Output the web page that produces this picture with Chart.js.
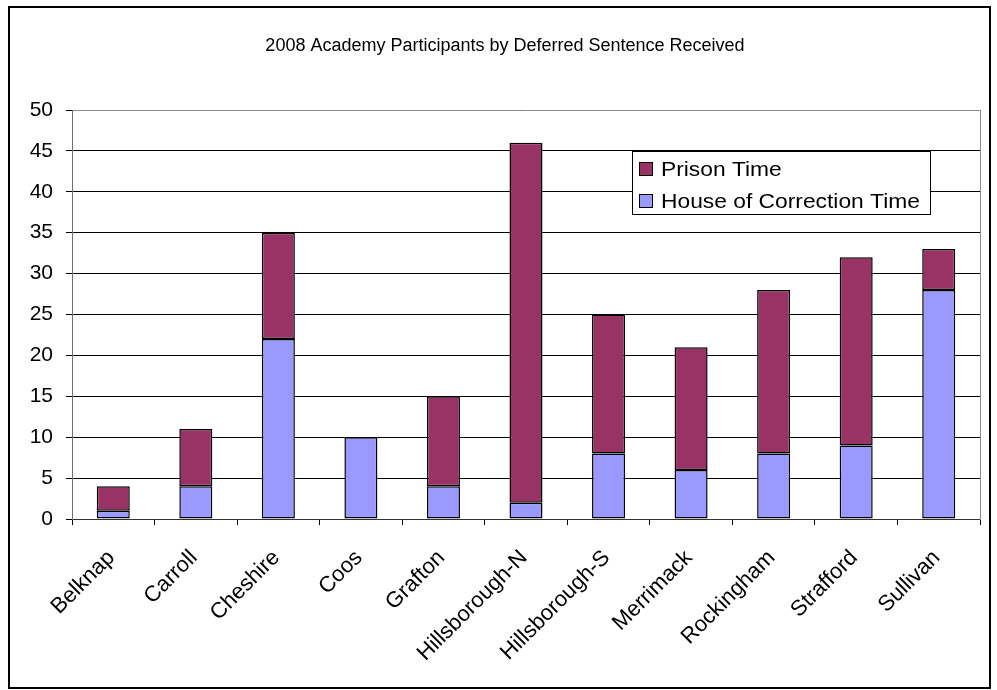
<!DOCTYPE html>
<html>
<head>
<meta charset="utf-8">
<script src="https://cdn.jsdelivr.net/npm/chart.js@4.4.1/dist/chart.umd.min.js"></script>
<style>
  html, body { margin: 0; padding: 0; background: #ffffff; }
  canvas { display: block; }
</style>
</head>
<body>
<canvas id="chart" width="997" height="690"></canvas>
<script>
// Chart text and data
const chartTitle = '2008 Academy Participants by Deferred Sentence Received';
const counties = ['Belknap', 'Carroll', 'Cheshire', 'Coos', 'Grafton', 'Hillsborough-N',
                  'Hillsborough-S', 'Merrimack', 'Rockingham', 'Strafford', 'Sullivan'];
const houseOfCorrectionTime = [1, 4, 22, 10, 4, 2, 8, 6, 8, 9, 28];
const prisonTime = [3, 7, 13, 0, 11, 44, 17, 15, 20, 23, 5];
const seriesLabels = ['House of Correction Time', 'Prison Time'];
const seriesColors = ['#9999FF', '#993366'];
const yMin = 0, yMax = 50, yStep = 5;

const FONT = '"Liberation Sans", Arial, Helvetica, sans-serif';

// Outer frame and chart title
const framePlugin = {
  id: 'frame',
  beforeDraw(chart) {
    const ctx = chart.ctx;
    ctx.save();
    ctx.fillStyle = '#ffffff';
    ctx.fillRect(0, 0, chart.width, chart.height);
    ctx.strokeStyle = '#000000';
    ctx.lineWidth = 2;
    ctx.strokeRect(9, 7, 981, 681);
    ctx.fillStyle = '#000000';
    ctx.font = '18px ' + FONT;
    ctx.textAlign = 'center';
    ctx.textBaseline = 'middle';
    ctx.fillText(chartTitle, 505, 46);
    ctx.restore();
  }
};

// Boxed legend inside the plot area, top series listed first (slightly wide lettering)
const boxLegendPlugin = {
  id: 'boxLegend',
  afterDraw(chart) {
    const ctx = chart.ctx;
    const x = 632.5, y = 151.5, w = 298, h = 63;
    ctx.save();
    ctx.fillStyle = '#ffffff';
    ctx.fillRect(x, y, w, h);
    ctx.strokeStyle = '#000000';
    ctx.lineWidth = 1;
    ctx.strokeRect(x, y, w, h);
    const items = chart.data.datasets.slice().reverse();
    ctx.font = '20px ' + FONT;
    ctx.textBaseline = 'middle';
    ctx.textAlign = 'left';
    items.forEach((ds, i) => {
      const cy = 169 + i * 32;
      ctx.fillStyle = ds.backgroundColor;
      ctx.fillRect(639.5, cy - 6.5, 13, 13);
      ctx.strokeStyle = '#000000';
      ctx.strokeRect(639.5, cy - 6.5, 13, 13);
      ctx.save();
      ctx.translate(661, cy + 1);
      ctx.scale(1.14, 1);
      ctx.fillStyle = '#000000';
      ctx.fillText(ds.label, 0, 0);
      ctx.restore();
    });
    ctx.restore();
  }
};

new Chart(document.getElementById('chart'), {
  type: 'bar',
  data: {
    labels: counties,
    datasets: [
      {
        label: seriesLabels[0],
        data: houseOfCorrectionTime,
        backgroundColor: seriesColors[0],
        borderColor: '#000000',
        borderWidth: 1.5,
        borderSkipped: false
      },
      {
        label: seriesLabels[1],
        data: prisonTime,
        backgroundColor: seriesColors[1],
        borderColor: '#000000',
        borderWidth: 1.5,
        borderSkipped: false
      }
    ]
  },
  options: {
    responsive: false,
    animation: false,
    devicePixelRatio: 1,
    layout: { padding: { left: 0, top: 110, right: 17, bottom: 0 } },
    datasets: { bar: { categoryPercentage: 1.0, barPercentage: 0.4 } },
    plugins: {
      legend: { display: false },
      title: { display: false },
      tooltip: { enabled: false }
    },
    scales: {
      x: {
        stacked: true,
        offset: true,
        afterFit(scale) { scale.height = 171; },
        grid: {
          offset: true,
          drawOnChartArea: false,
          drawTicks: true,
          tickLength: 6,
          tickColor: '#000000',
          color: '#000000'
        },
        border: { display: true, color: '#333333', width: 1 },
        ticks: {
          autoSkip: false,
          minRotation: 45,
          maxRotation: 45,
          padding: 20,
          labelOffset: -2,
          color: '#000000',
          font: { family: FONT, size: 22 }
        }
      },
      y: {
        stacked: true,
        min: yMin,
        max: yMax,
        afterFit(scale) { scale.width = 72; },
        grid: {
          drawTicks: true,
          tickLength: 6,
          tickColor: '#000000',
          color: (c) => (c.tick && c.tick.value === yMax) ? '#8c8c8c' : '#000000',
          lineWidth: 1
        },
        border: { display: true, color: '#707070', width: 1 },
        ticks: {
          stepSize: yStep,
          padding: 13,
          color: '#000000',
          font: { family: FONT, size: 21 }
        }
      },
      yRight: {
        position: 'right',
        display: true,
        min: yMin,
        max: yMax,
        afterFit(scale) { scale.width = 0; },
        grid: { drawOnChartArea: false, drawTicks: false },
        border: { display: true, color: '#8c8c8c', width: 1 },
        ticks: { display: false }
      }
    }
  },
  plugins: [framePlugin, boxLegendPlugin]
});
</script>
</body>
</html>
